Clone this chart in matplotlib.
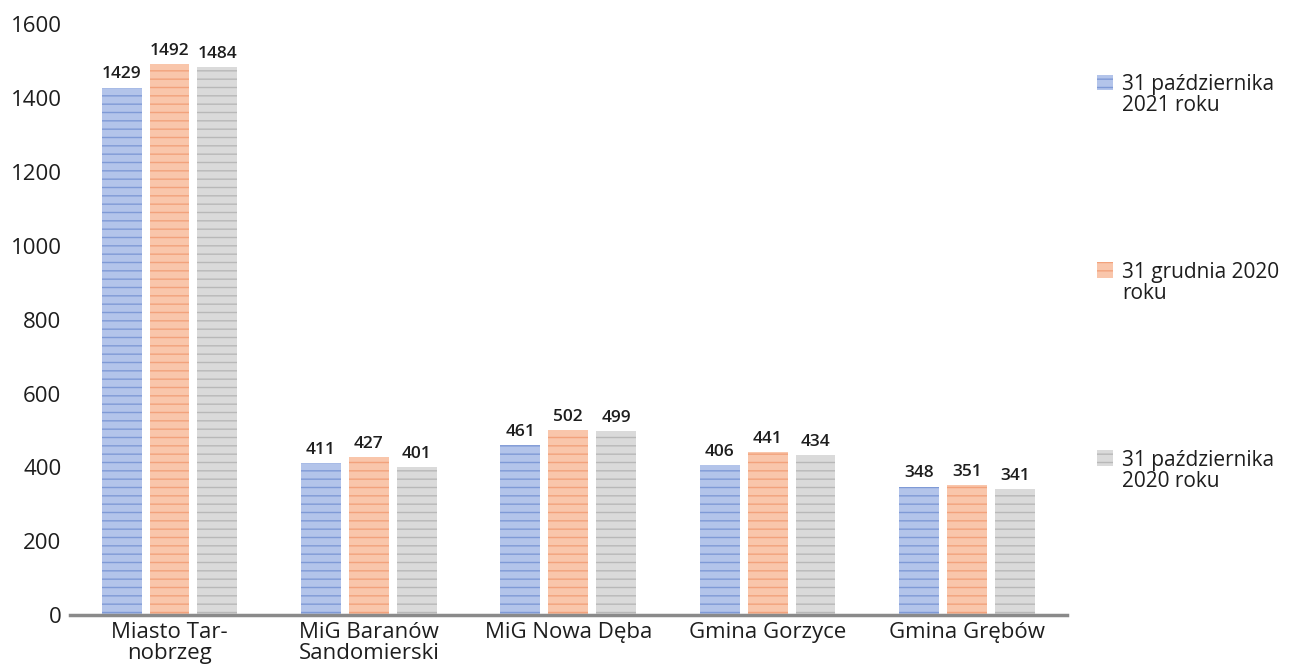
import matplotlib
matplotlib.use('Agg')
import matplotlib.pyplot as plt
import numpy as np

categories = ['Miasto Tar-\nnobrzeg', 'MiG Baranów\nSandomierski', 'MiG Nowa Dęba',
              'Gmina Gorzyce', 'Gmina Grębów']
oct_2021 = [1429, 411, 461, 406, 348]
dec_2020 = [1492, 427, 502, 441, 351]
oct_2020 = [1484, 401, 499, 434, 341]
series_labels = ['31 października\n2021 roku', '31 grudnia 2020\nroku', '31 października\n2020 roku']
yticks = [0, 200, 400, 600, 800, 1000, 1200, 1400, 1600]

plt.rcParams['font.family'] = ['Open Sans', 'DejaVu Sans']
plt.rcParams['hatch.linewidth'] = 1.0

fills = ['#b3c4ea', '#f9c6ab', '#dadada']
lines = ['#7f9ad6', '#f2a27c', '#b8b8b8']
txt = '#1e1e1e'

fig = plt.figure(figsize=(12.93, 6.71), dpi=100)
ax = fig.add_axes([0.054, 0.0835, 0.771, 0.88])

x = np.arange(len(categories))
w = 0.2
step = 0.24
handles = []
for i, vals in enumerate([oct_2021, dec_2020, oct_2020]):
    bars = ax.bar(x + (i - 1) * step, vals, w, color=fills[i], edgecolor=lines[i],
                  linewidth=0, hatch='--', label=series_labels[i])
    handles.append(bars)
    for b, v in zip(bars, vals):
        ax.text(b.get_x() + b.get_width() / 2, v + 14, str(v), ha='center', va='bottom',
                fontsize=12.5, fontweight='semibold', color=txt)

ax.set_xlim(-0.5, 4.5)
ax.set_ylim(0, 1600)
ax.set_yticks(yticks)
ax.set_xticks(x)
ax.set_xticklabels(categories, fontsize=16, color=txt, linespacing=1.0)
ax.tick_params(axis='y', labelsize=16, length=0, pad=6, labelcolor=txt)
ax.tick_params(axis='x', length=0, pad=5)
for s in ['top', 'right', 'left']:
    ax.spines[s].set_visible(False)
ax.spines['bottom'].set_color('#8a8a8a')
ax.spines['bottom'].set_linewidth(2.5)

leg = fig.legend(handles=handles, loc='upper left', bbox_to_anchor=(0.834, 0.917),
                 frameon=False, fontsize=15, labelspacing=7.0, handlelength=0.75,
                 handleheight=0.75, handletextpad=0.45)
for t in leg.get_texts():
    t.set_color(txt)
    t.set_linespacing(1.0)
# lift the legend swatches to the first line of each label
for h in leg.legend_handles:
    h.set_y(h.get_y() + 10)

fig.savefig('out.png', dpi=100)
